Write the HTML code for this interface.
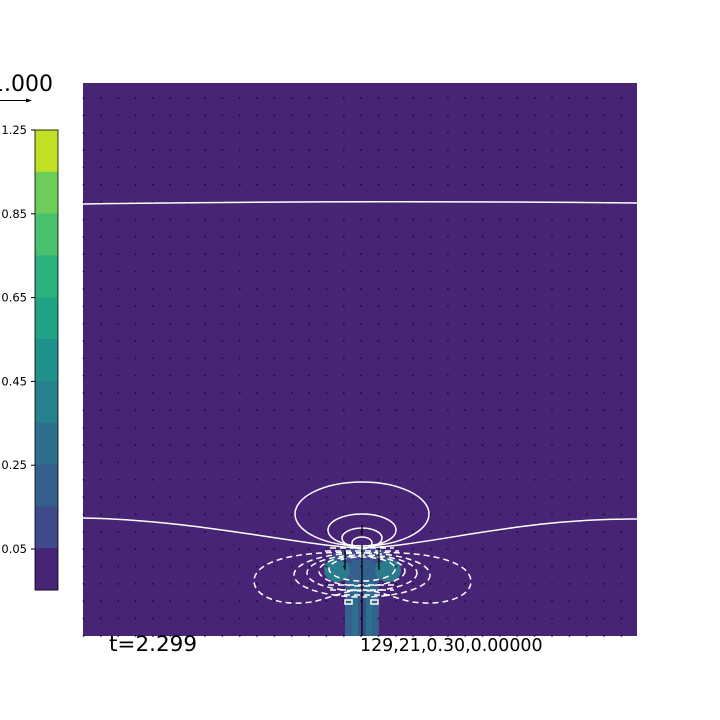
<!DOCTYPE html>
<html><head><meta charset="utf-8"><style>
body{margin:0;background:#fff;width:720px;height:720px;overflow:hidden}
svg{display:block;font-family:"DejaVu Sans","Liberation Sans",sans-serif}
</style></head><body>
<svg id="fig" width="720" height="720" viewBox="0 0 720 720">
<text x="-10" y="91" font-size="22" fill="#000">1.000</text>
<line x1="0" y1="100.5" x2="28" y2="100.5" stroke="#000" stroke-width="1"/>
<polygon points="32,100.5 26,98.5 26,102.5" fill="#000"/>
<g id="cbar"></g>
<rect x="83" y="83" width="554" height="553" fill="#472476"/>
<g id="plume">
<rect x="345" y="556" width="34" height="80" fill="#34608d"/>
<rect x="352" y="556" width="20" height="80" fill="#2c708e"/>
<rect x="358" y="560" width="8" height="76" fill="#3b518b"/>
<ellipse cx="337" cy="570" rx="13" ry="12" fill="#2b7b8e"/>
<ellipse cx="388" cy="570" rx="13" ry="12" fill="#2b7b8e"/>
<ellipse cx="362" cy="556" rx="30" ry="8" fill="#3d4d8a"/>
<rect x="352" y="560" width="20" height="22" fill="#34608d"/>
</g>
<g id="dots"></g>
<g fill="none" stroke="#fff" stroke-width="1.5">
<path d="M83,204 Q360,200 637,203"/>
<path d="M83,518 C200,520 300,546 362,548 C430,546 520,518 637,519"/>
<ellipse cx="362" cy="514" rx="67" ry="32"/>
<ellipse cx="362" cy="530" rx="34" ry="16"/>
<ellipse cx="362" cy="538" rx="20" ry="10"/>
<ellipse cx="362" cy="543" rx="10" ry="6"/>
</g>
<g fill="none" stroke="#fff" stroke-width="1.5" stroke-dasharray="6,4">
<path d="M362,553 C300,550 253,560 254,582 C256,600 290,608 320,600 C340,594 350,590 362,590 C374,590 384,594 404,600 C434,608 470,600 471,582 C471,560 424,550 362,553 Z"/>
<ellipse cx="362" cy="575" rx="68" ry="22"/>
<ellipse cx="362" cy="573" rx="55" ry="18"/>
<ellipse cx="362" cy="571" rx="43" ry="15"/>
<ellipse cx="362" cy="569" rx="33" ry="12"/>
<path d="M328,585 L396,585 M330,590 L394,590 M334,595 L390,595 M325,551 L399,551 M330,548 L394,548"/>
</g>
<g fill="none" stroke="#fff" stroke-width="1.5">
<rect x="345" y="600" width="7" height="4"/><rect x="371" y="600" width="7" height="4"/>
</g>
<g stroke="#000" stroke-width="1.2">
<line x1="362" y1="636" x2="362" y2="545"/>
<line x1="345" y1="570" x2="345" y2="550"/><line x1="379" y1="570" x2="379" y2="550"/>
<line x1="362" y1="525" x2="362" y2="535"/>
</g>
<text x="109" y="651" font-size="21.5">t=2.299</text>
<text x="360" y="651" font-size="17.4">129,21,0.30,0.00000</text>
</svg>
<script>
const cbColors=["#c0df25","#6ccd5a","#47c16e","#2db27d","#21a386","#21918c","#26828e","#2e6f8e","#355f8d","#3e4a89","#472476"];
const cbTicks=["1.25","0.85","0.65","0.45","0.25","0.05"];
const ns="http://www.w3.org/2000/svg";
const cb=document.getElementById('cbar');
const top0=130,binH=(590-130)/cbColors.length;
cbColors.forEach((c,i)=>{const r=document.createElementNS(ns,'rect');


r.setAttribute('x',35);r.setAttribute('y',top0+i*binH);r.setAttribute('width',23);r.setAttribute('height',binH+0.5);r.setAttribute('fill',c);cb.appendChild(r);});
const fr=document.createElementNS(ns,'rect');


fr.setAttribute('x',35);fr.setAttribute('y',130);fr.setAttribute('width',23);fr.setAttribute('height',460);fr.setAttribute('fill','none');fr.setAttribute('stroke','#000');fr.setAttribute('stroke-width','0.8');cb.appendChild(fr);
cbTicks.forEach((t,i)=>{const y=130+i*83.8;
const tx=document.createElementNS(ns,'text');


tx.setAttribute('x',27);tx.setAttribute('y',y+4);tx.setAttribute('font-size','11.5');tx.setAttribute('text-anchor','end');tx.textContent=t;cb.appendChild(tx);
const l=document.createElementNS(ns,'line');


l.setAttribute('x1',31);l.setAttribute('x2',35);l.setAttribute('y1',y);l.setAttribute('y2',y);l.setAttribute('stroke','#000');cb.appendChild(l);});
const dg=document.getElementById('dots');
for(let x=83.5;x<637;x+=17.35){for(let y=98;y<636;y+=17.35){
const d=document.createElementNS(ns,'rect');


d.setAttribute('x',x-0.7);d.setAttribute('y',y-0.7);d.setAttribute('width',1.5);d.setAttribute('height',1.5);d.setAttribute('fill','#111');dg.appendChild(d);}}
</script>
</body></html>
